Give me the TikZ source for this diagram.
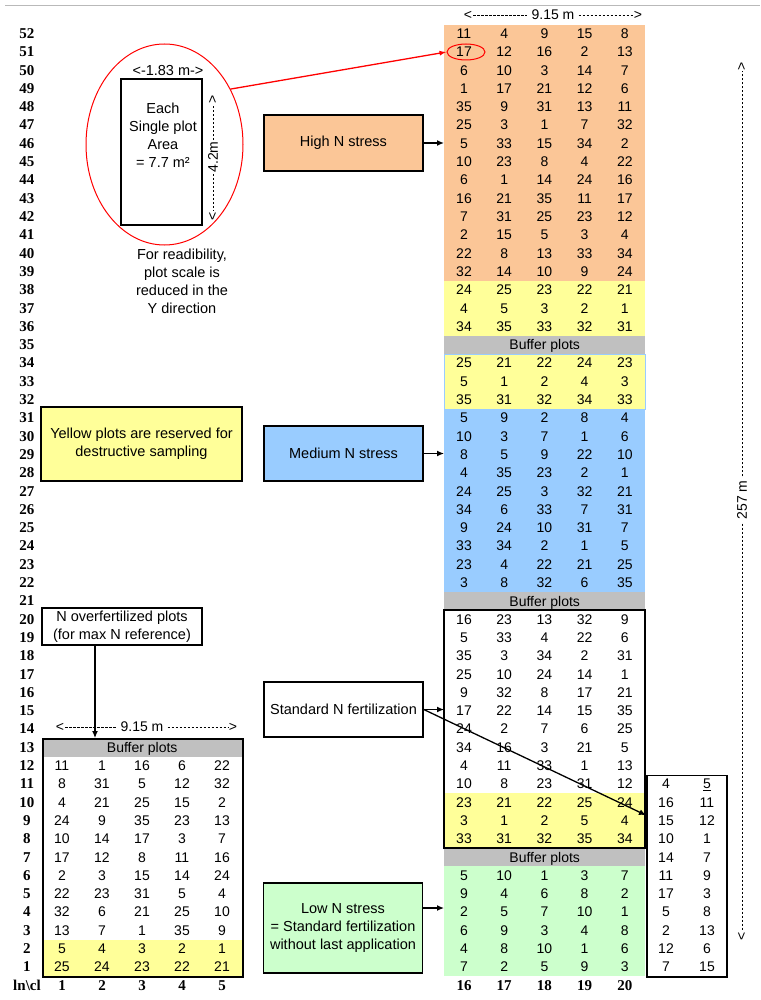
\documentclass[tikz,border=0pt]{standalone}
\usepackage{fontspec}
\setmainfont{Liberation Sans}
\newfontfamily\lblfont{Liberation Serif}
\usetikzlibrary{shapes.geometric,arrows.meta,calc}
\definecolor{cOrange}{HTML}{FBC697}
\definecolor{cYellow}{HTML}{FFFF99}
\definecolor{cBlue}{HTML}{99CCFF}
\definecolor{cGreen}{HTML}{CCFFCC}
\definecolor{cGray}{HTML}{C0C0C0}
\begin{document}
\begin{tikzpicture}[x=1pt,y=-1pt,
  num/.style={font=\fontsize{14}{16}\selectfont, inner sep=0pt, text height=10pt, text depth=0pt},
  rowlab/.style={font=\lblfont\bfseries\fontsize{15}{16}\selectfont, inner sep=0pt, text height=10pt, text depth=0pt},
  txt/.style={font=\fontsize{14.5}{18}\selectfont, align=center, inner sep=0pt},
  block/.style={rectangle, inner sep=0pt, anchor=north west, minimum width=201pt},
  labbox/.style={draw, line width=1.6pt, rectangle, inner sep=0pt, minimum width=159pt, font=\fontsize{14.5}{18}\selectfont, align=center},
  frame/.style={draw, line width=1.6pt},
  arr/.style={line width=1.3pt, -{Latex[length=7pt,width=6pt]}},
  dimt/.style={font=\fontsize{14}{16}\selectfont, inner sep=1pt},
  dimmid/.style={font=\fontsize{14}{16}\selectfont, inner sep=4pt},
  dimln/.style={line width=0.6pt, dash pattern=on 2.5pt off 1.5pt}
]
\useasboundingbox (0,0) rectangle (760,1000);
\fill[white] (0,0) rectangle (760,1000);
\draw[line width=1pt, gray!55] (5,6) -- (760,6);

% ---------- main grid blocks ----------
\node[block, fill=cOrange, minimum height=256.2pt] (high) at (444,24.35) {};
\node[block, fill=cYellow, minimum height=54.9pt] (yelA) at (444,280.55) {};
\node[block, fill=cGray, minimum height=18.3pt] (bufA) at (444,335.45) {};
\node[block, fill=cYellow, draw=cBlue, line width=1pt, minimum height=54.9pt] (yelB) at (444,353.75) {};
\node[block, fill=cBlue, minimum height=183pt] (med) at (444,408.65) {};
\node[block, fill=cGray, minimum height=18.3pt] (bufB) at (444,591.65) {};
\node[block, fill=white, minimum height=183pt] (std) at (444,609.95) {};
\node[block, fill=cYellow, minimum height=54.9pt] (yelC) at (444,792.95) {};
\node[block, fill=cGray, minimum height=18.3pt] (bufC) at (444,847.85) {};
\node[block, fill=cGreen, minimum height=109.8pt] (low) at (444,866.15) {};
\draw[frame] (444,609.95) rectangle (645,847.85);
\node[num] (bufAt) at (bufA.center) {Buffer plots};
\node[num] (bufBt) at (bufB.center) {Buffer plots};
\node[num] (bufCt) at (bufC.center) {Buffer plots};

% ---------- left grid ----------
\node[block, fill=cGray, minimum width=200pt, minimum height=18.3pt] (lbuf) at (42,738.05) {};
\node[block, fill=cYellow, minimum width=200pt, minimum height=36.6pt] (lyel) at (42,939.65) {};
\node[block, draw, line width=1.6pt, minimum width=200pt, minimum height=237.9pt] (lgrid) at (42,738.05) {};
\node[num] (lbuft) at (lbuf.center) {Buffer plots};

% ---------- small box ----------
\node[block, draw, line width=1.6pt, fill=white, minimum width=80pt, minimum height=201.3pt] (sbox) at (646,774.65) {};

% ---------- row labels ----------
\foreach \r in {1,...,52}
  \node[rowlab] (rl\r) at (27,{33.5+(52-\r)*18.3}) {\r};
\node[rowlab] (lncl) at (27,985) {ln\textbackslash cl};
\foreach \c [count=\i] in {1,2,3,4,5}
  \node[rowlab] (bl\i) at ({22+40*\i},985) {\c};
\foreach \c [count=\i] in {16,17,18,19,20}
  \node[rowlab] (br\i) at ({423.8+40.2*\i},985) {\c};

% ---------- main numbers ----------
\foreach \r/\va/\vb/\vc/\vd/\ve in {
52/11/4/9/15/8, 51/17/12/16/2/13, 50/6/10/3/14/7, 49/1/17/21/12/6, 48/35/9/31/13/11,
47/25/3/1/7/32, 46/5/33/15/34/2, 45/10/23/8/4/22, 44/6/1/14/24/16, 43/16/21/35/11/17,
42/7/31/25/23/12, 41/2/15/5/3/4, 40/22/8/13/33/34, 39/32/14/10/9/24, 38/24/25/23/22/21,
37/4/5/3/2/1, 36/34/35/33/32/31, 34/25/21/22/24/23, 33/5/1/2/4/3, 32/35/31/32/34/33,
31/5/9/2/8/4, 30/10/3/7/1/6, 29/8/5/9/22/10, 28/4/35/23/2/1, 27/24/25/3/32/21,
26/34/6/33/7/31, 25/9/24/10/31/7, 24/33/34/2/1/5, 23/23/4/22/21/25, 22/3/8/32/6/35,
20/16/23/13/32/9, 19/5/33/4/22/6, 18/35/3/34/2/31, 17/25/10/24/14/1, 16/9/32/8/17/21,
15/17/22/14/15/35, 14/24/2/7/6/25, 13/34/16/3/21/5, 12/4/11/33/1/13, 11/10/8/23/31/12,
10/23/21/22/25/24, 9/3/1/2/5/4, 8/33/31/32/35/34, 6/5/10/1/3/7, 5/9/4/6/8/2,
4/2/5/7/10/1, 3/6/9/3/4/8, 2/4/8/10/1/6, 1/7/2/5/9/3}{
  \foreach \v [count=\i] in {\va,\vb,\vc,\vd,\ve}
    \node[num] (m\r-\i) at ({423.8+40.2*\i},{33.5+(52-\r)*18.3}) {\v};
}

% ---------- left numbers ----------
\foreach \r/\va/\vb/\vc/\vd/\ve in {
12/11/1/16/6/22, 11/8/31/5/12/32, 10/4/21/25/15/2, 9/24/9/35/23/13, 8/10/14/17/3/7,
7/17/12/8/11/16, 6/2/3/15/14/24, 5/22/23/31/5/4, 4/32/6/21/25/10, 3/13/7/1/35/9,
2/5/4/3/2/1, 1/25/24/23/22/21}{
  \foreach \v [count=\i] in {\va,\vb,\vc,\vd,\ve}
    \node[num] (l\r-\i) at ({22+40*\i},{33.5+(52-\r)*18.3}) {\v};
}

% ---------- small box numbers ----------
\foreach \r/\va/\vb in {11/4/\underline{5}, 10/16/11, 9/15/12, 8/10/1, 7/14/7, 6/11/9,
5/17/3, 4/5/8, 3/2/13, 2/12/6, 1/7/15}{
  \node[num] (s\r-1) at (666,{33.5+(52-\r)*18.3}) {\va};
  \node[num] (s\r-2) at (707,{33.5+(52-\r)*18.3}) {\vb};
}

% ---------- label boxes ----------
\node[labbox, fill=cOrange, minimum height=56pt] (hiLab) at (343.5,143) {High N stress};
\node[labbox, fill=cBlue, minimum height=55pt] (medLab) at (343.5,453.5) {Medium N stress};
\node[labbox, fill=white, minimum height=55pt] (stdLab) at (343.5,709.5) {Standard N fertilization};
\node[labbox, fill=cGreen, minimum height=90pt] (lowLab) at (343,928) {Low N stress\\= Standard fertilization\\without last application};
\node[labbox, fill=cYellow, minimum width=201pt, minimum height=74pt] (yelLab) at (141.5,444) {Yellow plots are reserved for\\destructive sampling};
\node[labbox, fill=white, minimum width=160pt, minimum height=37pt] (ovrLab) at (122,626.5) {N overfertilized plots\\(for max N reference)};

\coordinate (lowOut) at ($(lowLab.east)+(0,-20)$);
\coordinate (ovrOut) at ($(ovrLab.south)+(-27,0)$);
\coordinate (sboxIn) at ($(sbox.north west)!0.2!(sbox.south west)$);
\draw[arr] (hiLab.east) -- (hiLab.east -| high.west);
\draw[arr] (medLab.east) -- (medLab.east -| med.west);
\draw[arr] (stdLab.east) -- (stdLab.east -| std.west);
\draw[arr] (lowOut) -- (lowOut -| low.west);
\draw[arr] (stdLab.east) -- (sboxIn);
\draw[arr] (ovrOut) -- (ovrOut |- lgrid.north);

% ---------- single plot detail ----------
\node[draw=red, line width=1pt, ellipse, minimum width=157pt, minimum height=201pt, inner sep=0pt] (bigEll) at (164.5,144.5) {};
\node[draw, line width=1.6pt, minimum width=81pt, minimum height=146pt, inner sep=0pt] (plotRect) at (161.5,152) {};
\node[txt] (plotTxt) at (163,135) {Each\\Single plot\\Area\\= 7.7 m²};
\node[txt] (d183) at (168,71) {<-1.83 m->};
\node[txt] (caption) at (182,281.5) {For readibility,\\plot scale is\\reduced in the\\Y direction};
\node[dimt, rotate=90] (fdM) at (213,157) {4.2m};
\node[dimt, rotate=90] (fdT) at (213,99) {>};
\node[dimt, rotate=90] (fdB) at (213,216) {<};
\draw[dimln] (fdM.east) -- (fdT.west);
\draw[dimln] (fdM.west) -- (fdB.east);

\node[draw=red, line width=1pt, ellipse, minimum width=38pt, minimum height=16pt, inner sep=0pt] (hl) at (466,52) {};
\draw[red, line width=1.3pt, -{Latex[length=7pt,width=5pt]}] (bigEll.40) -- (hl.west);

% ---------- dimensions ----------
\node[dimt] (tdL) at (468,15) {<};
\node[dimmid] (tdM) at (553,15) {9.15 m};
\node[dimt] (tdR) at (638,15) {>};
\draw[dimln] (tdL.east) -- (tdM.west);
\draw[dimln] (tdM.east) -- (tdR.west);

\node[dimt] (ldL) at (60,727) {<};
\node[dimmid] (ldM) at (142,727) {9.15 m};
\node[dimt] (ldR) at (233,727) {>};
\draw[dimln] (ldL.east) -- (ldM.west);
\draw[dimln] (ldM.east) -- (ldR.west);

\node[dimmid, rotate=90] (vdM) at (742,500) {257 m};
\node[dimt, rotate=90] (vdT) at (742,66) {>};
\node[dimt, rotate=90] (vdB) at (742,936) {<};
\draw[dimln] (vdM.east) -- (vdT.west);
\draw[dimln] (vdM.west) -- (vdB.east);
\end{tikzpicture}
\end{document}
